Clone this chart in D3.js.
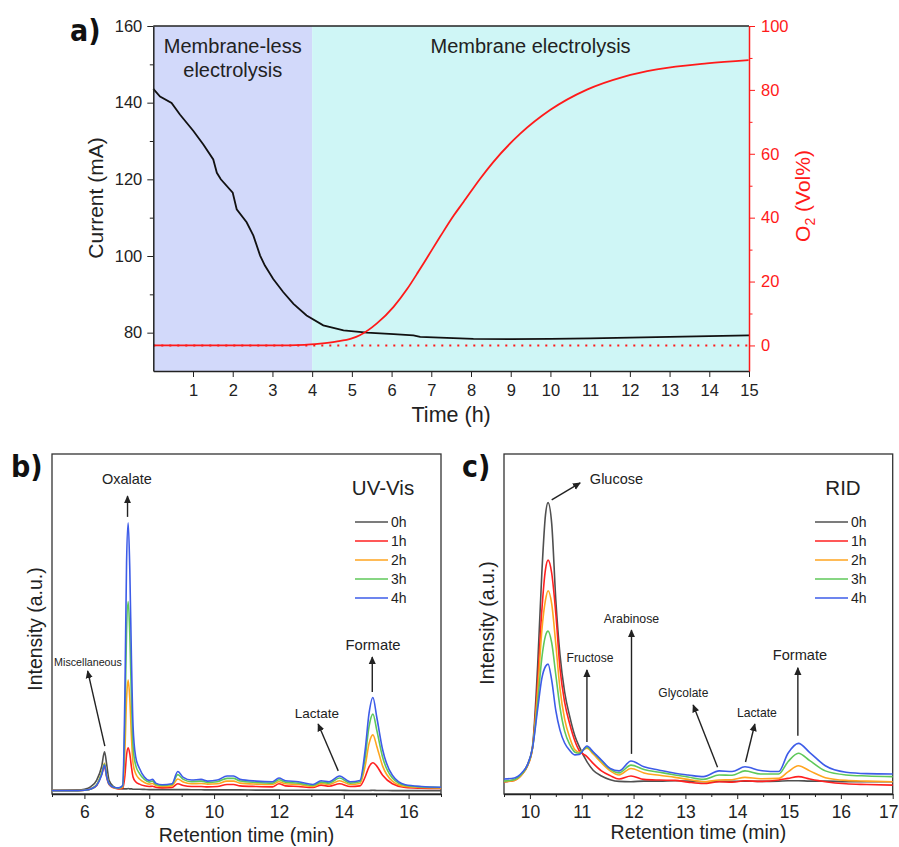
<!DOCTYPE html>
<html>
<head>
<meta charset="utf-8">
<script src="https://cdn.jsdelivr.net/npm/d3@7"></script>
<style>
    body { margin: 0; background: #fff; }
    text { font-family: "Liberation Sans", Arial, sans-serif; fill: #222; }
    .panel-label { font-family: "DejaVu Sans Condensed", "DejaVu Sans", sans-serif; font-weight: bold; font-size: 30px; fill: #111; }
    .axis path, .axis line { stroke: #222; }
</style>
</head>
<body>
<div id="chart"></div>
<script>
// ---------- panel a: current and O2 during electrolysis ----------
const runHours = [0, 0.17, 0.46, 0.67, 1.01, 1.26, 1.51, 1.6, 1.7, 2.0,
    2.1, 2.35, 2.52, 2.69, 2.81, 3.02, 3.27, 3.53, 3.86, 4.28,
    4.79, 5.38, 6.05, 6.55, 6.72, 8.06, 9, 10, 11, 12, 13, 14, 15]
const currentMA = [143.6, 141.6, 139.9, 136.9, 132.6, 129.1, 125.2, 121.7, 120, 116.5,
    112.2, 108.8, 105.3, 100.1, 97.5, 94, 90.6, 87.5, 84.5, 81.9,
    80.6, 80, 79.6, 79.3, 78.9, 78.4, 78.3, 78.4, 78.5, 78.7, 78.9, 79.1, 79.3]
const o2Hours = [0, 1, 2, 3, 3.8, 4.2, 4.6, 5.0, 5.2, 5.63, 6.05, 6.4, 6.68, 6.89,
    7.22, 7.56, 7.81, 8.23, 8.56, 9.24, 9.99, 10.92, 11.84, 12.68, 13.94, 14.99]
const o2VolPct = [0, 0, 0, 0, 0.2, 0.6, 1.2, 2.2, 3.2, 6.9, 12.1, 17.8, 23.2, 27.4,
    34, 40.6, 44.9, 52.2, 57.4, 66.3, 73.7, 80.1, 84.1, 86.4, 88.3, 89.3]
const phaseNames = [["Membrane-less", "electrolysis"], ["Membrane electrolysis"]]
const phaseBounds = [[0, 4], [4, 15]]
const hourTicks = d3.range(1, 16)
const currentTicks = [80, 100, 120, 140, 160]
const currentMinor = [90, 110, 130, 150]
const o2Ticks = [0, 20, 40, 60, 80, 100]
const o2Minor = [10, 30, 50, 70, 90]

// ---------- shared by b and c ----------
const sampleLabels = ["0h", "1h", "2h", "3h", "4h"]

// ---------- panel b: UV-Vis chromatograms ----------
const uvTimes = [5.0, 5.8, 6.0, 6.2, 6.38, 6.53, 6.62, 6.69, 6.76, 6.9,
    7.05, 7.18, 7.25, 7.3, 7.35, 7.4, 7.45, 7.5, 7.58, 7.7,
    7.85, 8.0, 8.1, 8.2, 8.4, 8.7, 8.88, 9.05, 9.3, 9.6,
    9.8, 10.1, 10.4, 10.6, 10.8, 11.3, 11.8, 12.0, 12.2, 12.6,
    13.05, 13.3, 13.55, 13.87, 14.2, 14.5, 14.66, 14.78, 14.9, 15.02,
    15.2, 15.5, 15.9, 16.4, 17.0]
const uv0h = [1.1, 1.2, 1.4, 2.2, 4.1, 8.0, 12.4, 8.5, 4.0, 2.2,
    1.6, 1.5, 1.5, 1.5, 1.6, 1.5, 1.5, 1.4, 1.4, 1.4,
    1.35, 1.3, 1.3, 1.3, 1.3, 1.3, 1.3, 1.3, 1.25, 1.25,
    1.2, 1.2, 1.2, 1.2, 1.2, 1.15, 1.15, 1.15, 1.1, 1.1,
    1.1, 1.1, 1.1, 1.1, 1.05, 1.05, 1.05, 1.05, 1.1, 1.05,
    1.05, 1.0, 1.0, 1.0, 1.0]
const uv1h = [1.0, 1.0, 1.1, 1.5, 2.5, 5.8, 8.0, 4.8, 2.8, 1.8,
    1.5, 1.7, 5.5, 11.5, 13.6, 11.8, 8.0, 5.0, 3.6, 2.9,
    2.4, 2.2, 2.3, 2.0, 1.8, 1.9, 3.0, 2.5, 2.2, 2.2,
    2.1, 2.2, 2.8, 2.8, 2.4, 2.2, 2.1, 3.0, 2.4, 2.2,
    1.9, 2.6, 2.3, 3.0, 2.2, 2.4, 5.0, 8.0, 9.2, 8.2,
    5.5, 3.0, 1.9, 1.7, 1.6]
const uv2h = [1.0, 1.0, 1.1, 1.5, 2.7, 6.2, 9.0, 5.3, 3.0, 1.9,
    1.6, 2.0, 13, 28, 33.5, 28, 17, 9, 6.0, 4.4,
    3.4, 2.9, 3.1, 2.5, 2.2, 2.4, 4.4, 3.5, 3.0, 3.1,
    2.9, 3.0, 3.8, 3.8, 3.2, 2.9, 2.8, 3.6, 3.0, 2.8,
    2.2, 3.1, 2.8, 3.9, 2.8, 3.1, 8.2, 14.8, 17.4, 14.0,
    8.2, 3.8, 2.2, 1.9, 1.8]
const uv3h = [1.0, 1.0, 1.1, 1.5, 2.7, 6.0, 8.8, 5.2, 3.0, 2.0,
    1.7, 2.3, 22, 48, 56.6, 47, 28, 14, 8.5, 6.0,
    4.3, 3.5, 3.8, 2.9, 2.5, 2.8, 5.7, 4.3, 3.6, 3.8,
    3.4, 3.6, 4.6, 4.6, 3.8, 3.4, 3.2, 4.2, 3.5, 3.2,
    2.5, 3.5, 3.2, 4.7, 3.2, 3.6, 10.8, 19.8, 23.5, 18.7,
    10.8, 4.7, 2.5, 2.1, 1.9]
const uv4h = [1.0, 1.0, 1.1, 1.5, 2.6, 5.5, 8.5, 5.0, 3.0, 2.0,
    1.8, 2.5, 30, 68, 79.8, 66, 40, 20, 11, 7.5,
    5.0, 4.0, 4.3, 3.2, 2.7, 3.0, 6.6, 4.9, 4.1, 4.3,
    3.8, 4.1, 5.3, 5.3, 4.3, 3.8, 3.6, 4.7, 3.9, 3.6,
    2.8, 3.9, 3.6, 5.3, 3.6, 4.0, 12.9, 23.7, 28.4, 22.5,
    13, 5.5, 2.7, 2.2, 2.0]
const uvTicks = [6, 8, 10, 12, 14, 16]
const uvMinor = [5, 7, 9, 11, 13, 15, 17]

// ---------- panel c: RID chromatograms ----------
const ridTimes = [9.5, 9.7, 9.85, 9.95, 10.05, 10.15, 10.23, 10.3, 10.35, 10.42,
    10.5, 10.58, 10.67, 10.77, 10.87, 10.95, 11.1, 11.22, 11.38, 11.55,
    11.72, 11.95, 12.2, 12.5, 12.8, 13.05, 13.35, 13.65, 13.9, 14.15,
    14.45, 14.8, 14.98, 15.18, 15.4, 15.7, 16.1, 16.5, 17.0]
const rid0h = [3.6, 4.2, 6.0, 8.5, 14, 38, 65, 82, 85.7, 79.6,
    57, 41, 30, 22.7, 17, 14, 9.5, 7, 5.3, 4.2,
    3.7, 3.6, 3.8, 3.8, 3.9, 3.8, 3.6, 3.7, 3.7, 3.8,
    3.7, 3.8, 3.9, 3.9, 3.8, 3.8, 3.6, 3.6, 3.6]
const rid1h = [3.6, 4.0, 5.8, 8.2, 13.5, 33, 54, 66, 68.8, 65,
    53, 37, 27, 20.5, 15.5, 12.8, 11, 9, 6.8, 5.4,
    4.4, 5.3, 4.3, 4.1, 4.0, 3.5, 3.1, 3.6, 3.5, 3.9,
    3.7, 4.1, 4.6, 5.1, 4.4, 3.6, 3.0, 2.8, 2.6]
const rid2h = [3.6, 4.0, 5.8, 8.2, 13.5, 30, 48, 57, 59.8, 56,
    44, 31, 22, 16.5, 13, 12.3, 13.5, 11.8, 9.2, 6.8,
    5.6, 7.5, 6.2, 5.5, 4.9, 4.3, 3.6, 4.1, 4.2, 4.9,
    4.5, 4.6, 6.5, 8.3, 6.8, 4.8, 4.0, 3.8, 3.6]
const rid3h = [3.8, 4.2, 6.0, 8.3, 13.5, 27, 40, 46.5, 47.9, 44.5,
    35, 25.5, 18.5, 14.5, 12.3, 12.0, 13.8, 12.2, 9.8, 7.3,
    6.2, 8.5, 7.2, 6.4, 5.6, 5.0, 4.3, 5.6, 5.5, 6.8,
    5.9, 5.9, 9.5, 12.0, 9.8, 6.8, 5.6, 5.3, 5.1]
const rid4h = [4.4, 4.7, 6.3, 8.5, 13.5, 25, 34, 37.5, 38.2, 33.5,
    24.5, 18.8, 15, 12.8, 11.5, 11.6, 14.1, 12.4, 10.0, 7.5,
    6.8, 9.7, 8.0, 7.0, 6.1, 5.6, 5.1, 6.8, 6.6, 8.0,
    6.9, 6.6, 12.0, 14.9, 12.2, 8.3, 6.4, 6.0, 5.9]
const ridTicks = [10, 11, 12, 13, 14, 15, 16, 17]
const ridMinor = [9.5, 10.5, 11.5, 12.5, 13.5, 14.5, 15.5, 16.5]

// colours per sample, 0h .. 4h
const sampleColors = ["#505050", "#ff2020", "#ffa51f", "#5fc85a", "#3d5ce8"]

const svg = d3.select("#chart").append("svg")
    .attr("width", 899)
    .attr("height", 847)

svg.append("defs").append("marker")
    .attr("id", "arrow")
    .attr("viewBox", "0 -5 10 10")
    .attr("refX", 9)
    .attr("refY", 0)
    .attr("markerWidth", 8)
    .attr("markerHeight", 8)
    .attr("markerUnits", "userSpaceOnUse")
    .attr("orient", "auto")
    .append("path")
    .attr("d", "M0,-4.5L10,0L0,4.5Z")
    .attr("fill", "#222")


class ElectrolysisChart {
    constructor(svg) {
        this.svg = svg
        this.box = {left: 153.3, right: 749, top: 26, bottom: 371}
    }

    initVis() {
        let vis = this
        let b = vis.box
        vis.g = vis.svg.append("g")

        vis.x = d3.scaleLinear().domain([0, 15]).range([b.left, b.right])
        vis.yCur = d3.scaleLinear().domain([70, 160]).range([b.bottom, b.top])
        vis.yO2 = d3.scaleLinear().domain([-8, 100]).range([b.bottom, b.top])

        // shaded phases
        let phaseFill = ["#d2d9fa", "#cff6f6"]
        vis.g.selectAll(".phase")
            .data(phaseBounds)
            .join("rect")
            .attr("class", "phase")
            .attr("x", d => vis.x(d[0]))
            .attr("width", d => vis.x(d[1]) - vis.x(d[0]))
            .attr("y", b.top)
            .attr("height", b.bottom - b.top)
            .attr("fill", (d, i) => phaseFill[i])

        phaseNames.forEach((lines, i) => {
            let cx = vis.x((phaseBounds[i][0] + phaseBounds[i][1]) / 2)
            lines.forEach((t, j) => {
                vis.g.append("text")
                    .attr("x", cx)
                    .attr("y", 53 + j * 24)
                    .attr("text-anchor", "middle")
                    .attr("font-size", "20px")
                    .text(t)
            })
        })

        // baseline of the O2 sensor
        vis.g.append("line")
            .attr("x1", vis.x(0)).attr("x2", vis.x(15))
            .attr("y1", vis.yO2(0)).attr("y2", vis.yO2(0))
            .attr("stroke", "#ff1a1a")
            .attr("stroke-width", 2)
            .attr("stroke-dasharray", "2,6")

        let curLine = d3.line()
            .x((d, i) => vis.x(runHours[i]))
            .y(d => vis.yCur(d))
        vis.g.append("path")
            .attr("d", curLine(currentMA))
            .attr("fill", "none")
            .attr("stroke", "#111")
            .attr("stroke-width", 1.8)

        let o2Line = d3.line()
            .x((d, i) => vis.x(o2Hours[i]))
            .y(d => vis.yO2(d))
            .curve(d3.curveMonotoneX)
        vis.g.append("path")
            .attr("d", o2Line(o2VolPct))
            .attr("fill", "none")
            .attr("stroke", "#ff1a1a")
            .attr("stroke-width", 1.8)

        // top frame line
        vis.g.append("line")
            .attr("x1", b.left).attr("x2", b.right)
            .attr("y1", b.top).attr("y2", b.top)
            .attr("stroke", "#222").attr("stroke-width", 1.5)

        vis.drawAxes()
    }

    drawAxes() {
        let vis = this
        let b = vis.box

        let xAxis = vis.g.append("g")
            .attr("class", "axis")
            .attr("transform", `translate(0,${b.bottom})`)
            .call(d3.axisBottom(vis.x).tickValues(hourTicks).tickSize(6).tickPadding(7).tickSizeOuter(0))
        xAxis.selectAll("text").attr("font-size", "16.5px")

        let yAxis = vis.g.append("g")
            .attr("class", "axis")
            .attr("transform", `translate(${b.left},0)`)
            .call(d3.axisLeft(vis.yCur).tickValues(currentTicks).tickSize(6).tickPadding(5).tickSizeOuter(0))
        yAxis.selectAll("text").attr("font-size", "16.5px")
        vis.g.append("g")
            .attr("class", "axis")
            .attr("transform", `translate(${b.left},0)`)
            .call(d3.axisLeft(vis.yCur).tickValues(currentMinor).tickSize(3.5).tickFormat(""))
            .select(".domain").remove()

        let rAxis = vis.g.append("g")
            .attr("transform", `translate(${b.right},0)`)
            .call(d3.axisRight(vis.yO2).tickValues(o2Ticks).tickSize(6).tickPadding(6).tickSizeOuter(0))
        rAxis.selectAll("path, line").attr("stroke", "#ff1a1a")
        rAxis.selectAll("text").attr("font-size", "16.5px").style("fill", "#ff1a1a")
        let rMinor = vis.g.append("g")
            .attr("transform", `translate(${b.right},0)`)
            .call(d3.axisRight(vis.yO2).tickValues(o2Minor).tickSize(3.5).tickFormat(""))
        rMinor.select(".domain").remove()
        rMinor.selectAll("line").attr("stroke", "#ff1a1a")

        vis.g.selectAll(".domain").attr("stroke-width", 1.5)

        // axis titles
        vis.g.append("text")
            .attr("x", vis.x(7.5))
            .attr("y", 422)
            .attr("text-anchor", "middle")
            .attr("font-size", "21.5px")
            .text("Time (h)")

        vis.g.append("text")
            .attr("transform", "translate(103,198) rotate(-90)")
            .attr("text-anchor", "middle")
            .attr("font-size", "21px")
            .text("Current (mA)")

        let o2Title = vis.g.append("text")
            .attr("transform", "translate(810,196) rotate(-90)")
            .attr("text-anchor", "middle")
            .attr("font-size", "21px")
            .style("fill", "#ff1a1a")
        o2Title.append("tspan").text("O")
        o2Title.append("tspan").attr("font-size", "14px").attr("dy", 5).text("2")
        o2Title.append("tspan").attr("dy", -5).text(" (Vol%)")

        vis.svg.append("text")
            .attr("class", "panel-label")
            .attr("x", 70)
            .attr("y", 41)
            .text("a)")
    }
}


class Chromatogram {
    constructor(svg, cfg) {
        this.svg = svg
        this.cfg = cfg
    }

    initVis() {
        let vis = this
        let c = vis.cfg
        vis.g = vis.svg.append("g")

        vis.x = d3.scaleLinear().domain(c.domain).range([c.left, c.right])
        vis.y = d3.scaleLinear().domain([0, 100]).range([c.bottom, c.top])

        vis.displayData = c.series.map((vals, i) => ({
            name: sampleLabels[i],
            color: sampleColors[i],
            points: vals.map((v, k) => [c.times[k], v])
        }))

        // frame
        vis.g.append("rect")
            .attr("x", c.left)
            .attr("y", c.top)
            .attr("width", c.right - c.left)
            .attr("height", c.bottom - c.top)
            .attr("fill", "none")
            .attr("stroke", "#333")
            .attr("stroke-width", 1.3)

        let xAxis = vis.g.append("g")
            .attr("class", "axis")
            .attr("transform", `translate(0,${c.bottom})`)
            .call(d3.axisBottom(vis.x).tickValues(c.ticks).tickSize(5).tickPadding(7).tickSizeOuter(0))
        xAxis.selectAll("text").attr("font-size", "17.5px")
        xAxis.select(".domain").attr("stroke-width", 1.3)
        // the last label sits on the page edge: keep it inside
        xAxis.selectAll(".tick text")
            .filter(d => vis.x(d) + 10 > 899)
            .attr("text-anchor", "end")
            .attr("x", d => 898 - vis.x(d))
        vis.g.append("g")
            .attr("class", "axis")
            .attr("transform", `translate(0,${c.bottom})`)
            .call(d3.axisBottom(vis.x).tickValues(c.minor).tickSize(3).tickFormat(""))
            .select(".domain").remove()

        vis.g.append("text")
            .attr("x", (c.left + c.right) / 2)
            .attr("y", c.titleY)
            .attr("text-anchor", "middle")
            .attr("font-size", "19.5px")
            .text("Retention time (min)")

        vis.g.append("text")
            .attr("transform", `translate(${c.left - 10},${c.yTitleMid}) rotate(-90)`)
            .attr("text-anchor", "middle")
            .attr("font-size", "19.5px")
            .text("Intensity (a.u.)")

        vis.svg.append("text")
            .attr("class", "panel-label")
            .attr("x", c.labelX)
            .attr("y", 477)
            .text(c.label)

        vis.updateVis()
    }

    updateVis() {
        let vis = this
        let c = vis.cfg

        let line = d3.line()
            .x(d => vis.x(d[0]))
            .y(d => vis.y(d[1]))
            .curve(d3.curveMonotoneX)

        vis.g.selectAll(".trace")
            .data(vis.displayData, d => d.name)
            .join("path")
            .attr("class", "trace")
            .attr("d", d => line(d.points))
            .attr("fill", "none")
            .attr("stroke", d => d.color)
            .attr("stroke-width", 1.6)

        // peak annotations
        c.notes.forEach(n => {
            vis.g.append("line")
                .attr("x1", vis.x(n.from[0])).attr("y1", vis.y(n.from[1]))
                .attr("x2", vis.x(n.to[0])).attr("y2", vis.y(n.to[1]))
                .attr("stroke", "#222")
                .attr("stroke-width", 1.4)
                .attr("marker-end", "url(#arrow)")
            vis.g.append("text")
                .attr("x", vis.x(n.lx))
                .attr("y", vis.y(n.ly))
                .attr("text-anchor", "middle")
                .attr("dominant-baseline", "central")
                .attr("font-size", n.size + "px")
                .text(n.text)
        })

        // legend
        let lx = c.left + c.legendX
        vis.g.append("text")
            .attr("x", lx + 28)
            .attr("y", c.top + 33)
            .attr("text-anchor", "middle")
            .attr("dominant-baseline", "central")
            .attr("font-size", "20.5px")
            .text(c.title)

        let rows = vis.g.selectAll(".legend-row")
            .data(vis.displayData)
            .join("g")
            .attr("class", "legend-row")
            .attr("transform", (d, i) => `translate(${lx},${c.top + 68 + i * 19})`)
        rows.append("line")
            .attr("x1", 0).attr("x2", 33)
            .attr("stroke", d => d.color)
            .attr("stroke-width", 1.6)
        rows.append("text")
            .attr("x", 36)
            .attr("dominant-baseline", "central")
            .attr("font-size", "14px")
            .text(d => d.name)
    }
}


let chartA = new ElectrolysisChart(svg)
chartA.initVis()

let chartB = new Chromatogram(svg, {
    left: 52, right: 441, top: 454, bottom: 794,
    domain: [5, 17], ticks: uvTicks, minor: uvMinor,
    times: uvTimes, series: [uv0h, uv1h, uv2h, uv3h, uv4h],
    title: "UV-Vis", label: "b)", labelX: 11, legendX: 303,
    titleY: 842, yTitleMid: 629,
    notes: [
        {text: "Oxalate", size: 14.5, lx: 7.31, ly: 92.6, from: [7.33, 81.5], to: [7.33, 87.6]},
        {text: "Miscellaneous", size: 10.7, lx: 6.11, ly: 38.8, from: [6.63, 14.1], to: [6.10, 36.2]},
        {text: "Lactate", size: 13.5, lx: 13.17, ly: 23.8, from: [13.83, 6.8], to: [13.21, 20.6]},
        {text: "Formate", size: 14.8, lx: 14.9, ly: 43.8, from: [14.88, 30], to: [14.88, 40.3]}
    ]
})
chartB.initVis()

let chartC = new Chromatogram(svg, {
    left: 504, right: 892.7, top: 454, bottom: 794,
    domain: [9.5, 17], ticks: ridTicks, minor: ridMinor,
    times: ridTimes, series: [rid0h, rid1h, rid2h, rid3h, rid4h],
    title: "RID", label: "c)", labelX: 462, legendX: 311,
    titleY: 839, yTitleMid: 623,
    notes: [
        {text: "Glucose", size: 14.5, lx: 11.67, ly: 92.6, from: [10.42, 86.5], to: [10.97, 91.5]},
        {text: "Fructose", size: 12.1, lx: 11.16, ly: 40, from: [11.10, 15.3], to: [11.10, 36.5]},
        {text: "Arabinose", size: 12.3, lx: 11.96, ly: 51.5, from: [11.96, 11.8], to: [11.96, 48.2]},
        {text: "Glycolate", size: 12, lx: 12.96, ly: 29.7, from: [13.62, 7.9], to: [13.15, 26.2]},
        {text: "Lactate", size: 12.2, lx: 14.38, ly: 23.9, from: [14.16, 9.4], to: [14.34, 20.6]},
        {text: "Formate", size: 14.6, lx: 15.21, ly: 40.9, from: [15.17, 17.1], to: [15.17, 37.1]}
    ]
})
chartC.initVis()
</script>
</body>
</html>
